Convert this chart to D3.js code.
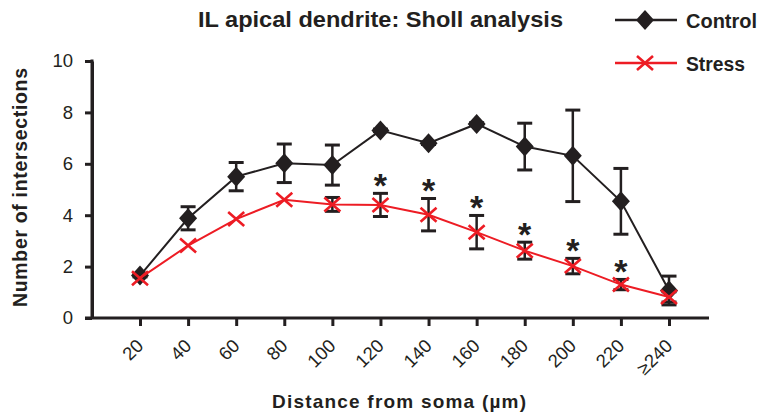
<!DOCTYPE html>
<html>
<head>
<meta charset="utf-8">
<script src="https://cdn.jsdelivr.net/npm/d3@7"></script>
<style>
  html, body { margin: 0; padding: 0; background: #ffffff; }
  svg { display: block; }
  text { font-family: "Liberation Sans", Arial, sans-serif; fill: #231f20; }
</style>
</head>
<body>
<div id="chart"></div>
<script>
// ---- data ----
const categories = ["20", "40", "60", "80", "100", "120", "140", "160", "180", "200", "220", "≥240"];
const controlValues = [1.65, 3.88, 5.5, 6.02, 5.95, 7.3, 6.8, 7.55, 6.67, 6.31, 4.54, 1.07];
const controlErrors = [0.05, 0.45, 0.55, 0.75, 0.78, 0.05, 0.05, 0.05, 0.91, 1.78, 1.28, 0.56];
const stressValues = [1.55, 2.82, 3.85, 4.6, 4.42, 4.4, 4.02, 3.34, 2.62, 2.02, 1.3, 0.82];
const stressErrors = [0.0, 0.0, 0.0, 0.0, 0.27, 0.45, 0.63, 0.65, 0.33, 0.3, 0.2, 0.2];
const significant = ["120", "140", "160", "180", "200", "220"];
const yTicks = [0, 2, 4, 6, 8, 10];
const seriesNames = ["Control", "Stress"];
const titleText = "IL apical dendrite: Sholl analysis";
const xLabel = "Distance from soma (µm)";
const yLabel = "Number of intersections";

const W = 758, H = 415;
const black = "#231f20", red = "#ed1c24";

const svg = d3.select("#chart").append("svg").attr("width", W).attr("height", H);

const x = d3.scalePoint().domain(categories).range([140, 669]);
const y = d3.scaleLinear().domain([0, 10]).range([318, 61]);

// ---- axes ----
const yAxis = svg.append("g").attr("transform", "translate(92,0)")
  .call(d3.axisLeft(y).tickValues(yTicks).tickSize(7).tickSizeOuter(0).tickPadding(12).tickFormat(d3.format("d")));
yAxis.select(".domain").attr("stroke", black).attr("stroke-width", 3);
yAxis.selectAll(".tick line").attr("stroke", black).attr("stroke-width", 3);
yAxis.selectAll(".tick text").attr("font-size", 18.5).attr("fill", black)
  .style("font-family", "'Liberation Sans', Arial, sans-serif");

const xAxis = svg.append("g").attr("transform", "translate(0,318)")
  .call(d3.axisBottom(x).tickSize(8).tickSizeOuter(0));
xAxis.select(".domain").remove();
xAxis.selectAll(".tick line").attr("stroke", black).attr("stroke-width", 3);
xAxis.selectAll(".tick text")
  .attr("font-size", 18.5)
  .attr("fill", black)
  .style("font-family", "'Liberation Sans', Arial, sans-serif")
  .attr("text-anchor", "end")
  .attr("dy", null)
  .attr("y", null)
  .attr("transform", "translate(4,29) rotate(-45)");

svg.append("line")
  .attr("x1", 85).attr("x2", 709).attr("y1", y(0)).attr("y2", y(0))
  .attr("stroke", black).attr("stroke-width", 3);
svg.append("line")
  .attr("x1", 92).attr("x2", 92).attr("y1", y(10) - 1.5).attr("y2", y(0))
  .attr("stroke", black).attr("stroke-width", 3);

// ---- helpers ----
function errorBars(values, errors) {
  const g = svg.append("g");
  categories.forEach((c, i) => {
    if (errors[i] <= 0) return;
    const cx = x(c), lo = y(values[i] - errors[i]), hi = y(values[i] + errors[i]);
    g.append("line").attr("x1", cx).attr("x2", cx).attr("y1", lo).attr("y2", hi)
      .attr("stroke", black).attr("stroke-width", 2.5);
    [lo, hi].forEach(yy => g.append("line").attr("x1", cx - 7.5).attr("x2", cx + 7.5)
      .attr("y1", yy).attr("y2", yy).attr("stroke", black).attr("stroke-width", 3));
  });
}
function diamond(g, cx, cy) {
  g.append("path").attr("d", `M${cx},${cy - 10}L${cx + 9},${cy}L${cx},${cy + 10}L${cx - 9},${cy}Z`)
    .attr("fill", black);
}
function cross(g, cx, cy) {
  g.append("path").attr("d", `M${cx - 8},${cy - 7}L${cx + 8},${cy + 7}M${cx - 8},${cy + 7}L${cx + 8},${cy - 7}`)
    .attr("stroke", red).attr("stroke-width", 2.6).attr("fill", "none");
}

const line = d3.line().x((d, i) => x(categories[i])).y(d => y(d));

// ---- control ----
svg.append("path").datum(controlValues).attr("d", line)
  .attr("fill", "none").attr("stroke", black).attr("stroke-width", 2);
errorBars(controlValues, controlErrors);
const cg = svg.append("g");
controlValues.forEach((v, i) => diamond(cg, x(categories[i]), y(v)));

// ---- stress ----
errorBars(stressValues, stressErrors);
svg.append("path").datum(stressValues).attr("d", line)
  .attr("fill", "none").attr("stroke", red).attr("stroke-width", 2);
const sg = svg.append("g");
stressValues.forEach((v, i) => cross(sg, x(categories[i]), y(v)));

// ---- significance stars ----
significant.forEach(c => {
  const i = categories.indexOf(c);
  const top = y(stressValues[i] + stressErrors[i]);
  svg.append("text").attr("x", x(c)).attr("y", top - 15 + 19)
    .attr("text-anchor", "middle").attr("font-size", 34).attr("font-weight", "bold")
    .text("*");
});

// ---- titles ----
svg.append("text").attr("x", 198).attr("y", 27)
  .attr("font-size", 22.5).attr("font-weight", "bold")
  .attr("textLength", 365).attr("lengthAdjust", "spacingAndGlyphs")
  .text(titleText);
svg.append("text").attr("x", 272).attr("y", 408)
  .attr("font-size", 19).attr("font-weight", "bold")
  .attr("textLength", 254).attr("lengthAdjust", "spacing")
  .text(xLabel);
svg.append("text").attr("transform", "translate(27,307) rotate(-90)")
  .attr("font-size", 19.5).attr("font-weight", "bold")
  .attr("textLength", 239).attr("lengthAdjust", "spacing")
  .text(yLabel);

// ---- legend ----
const lg = svg.append("g");
[20, 63].forEach((ly, k) => {
  lg.append("line").attr("x1", 615).attr("x2", 677).attr("y1", ly).attr("y2", ly)
    .attr("stroke", k === 0 ? black : red).attr("stroke-width", 2.5);
  if (k === 0) diamond(lg, 645, ly); else cross(lg, 645, ly);
  lg.append("text").attr("x", 686).attr("y", ly + 7.5)
    .attr("font-size", 20).attr("font-weight", "bold")
    .attr("textLength", k === 0 ? 71 : 59).attr("lengthAdjust", "spacingAndGlyphs")
    .text(seriesNames[k]);
});
</script>
</body>
</html>
